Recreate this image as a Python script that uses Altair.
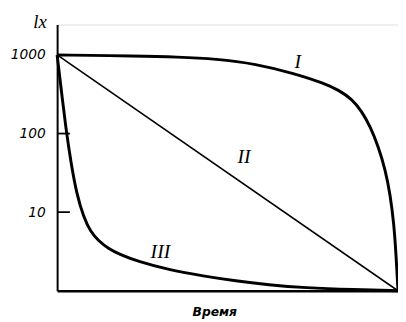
import altair as alt
import pandas as pd

# Curve I
t1 = [0, 23.6, 35.2, 46.7, 58.2, 69.7, 78.4, 82.7, 86.5, 89.3, 91.9, 94.2, 96.3, 97.7, 98.8, 99.4, 100]
v1 = [1000, 971, 944, 891, 772, 579, 434, 355, 274, 194, 122, 68.8, 34.5, 16.8, 7.08, 2.99, 1]
# Curve II
t2 = [0, 100]
v2 = [1000, 1]
# Curve III
t3 = [0, 1.44, 2.59, 4.03, 5.76, 7.78, 9.8, 12.1, 15.0, 18.4, 23.6, 33.1, 42.9, 52.4, 62.0, 72.6, 87.0, 100]
v3 = [1000, 298, 115, 43.4, 16.8, 8.66, 5.62, 4.34, 3.45, 2.9, 2.37, 1.83, 1.54, 1.33, 1.19, 1.09, 1.03, 1]

y_ticks = [10, 100, 1000]
curve_names = ["I", "II", "III"]
label_t = [70.6, 54.8, 30.3]
label_v = [818, 50, 3.07]

rows = []
for name, ts, vs in zip(curve_names, [t1, t2, t3], [v1, v2, v3]):
    for t, v in zip(ts, vs):
        rows.append({"curve": name, "t": t, "v": v})
df = pd.DataFrame(rows)
labels = pd.DataFrame({"curve": curve_names, "t": label_t, "v": label_v})
ticks = pd.DataFrame({"v": y_ticks})

xs = alt.Scale(domain=[0, 100], nice=False, zero=False)
ys = alt.Scale(type="log", domain=[1, 2441], nice=False)

x_enc = alt.X("t:Q", scale=xs, axis=alt.Axis(
    title="Время", labels=False, ticks=False, grid=False,
    domainColor="black", domainWidth=2.5,
    titleFont="DejaVu Sans", titleFontStyle="italic", titleFontWeight="bold",
    titleFontSize=12.5, titlePadding=15, titleColor="black", titleX=160))
y_enc = alt.Y("v:Q", scale=ys, axis=alt.Axis(
    title="lx", values=y_ticks, format="d", ticks=False, grid=False,
    domainColor="black", domainWidth=2,
    labelFont="DejaVu Sans", labelFontStyle="italic", labelFontSize=14,
    labelColor="black", labelPadding=12,
    titleFont="Liberation Serif", titleFontStyle="italic", titleFontWeight="normal",
    titleFontSize=19, titleAngle=0, titleAlign="center", titleBaseline="alphabetic",
    titleX=-18, titleY=3, titleColor="black"))

thick = alt.Chart(df).transform_filter(alt.datum.curve != "II").mark_line(
    color="black", strokeWidth=3, interpolate="basis"
).encode(x=x_enc, y=y_enc, detail="curve:N")

thin = alt.Chart(df).transform_filter(alt.datum.curve == "II").mark_line(
    color="black", strokeWidth=1.6
).encode(x="t:Q", y="v:Q")

tick_rules = alt.Chart(ticks).mark_rule(color="black", strokeWidth=1.8).encode(
    y="v:Q", x=alt.value(0), x2=alt.value(13))

text = alt.Chart(labels).mark_text(
    font="Liberation Serif", fontStyle="italic", fontSize=20, color="black",
    align="center", baseline="middle"
).encode(x="t:Q", y="v:Q", text="curve:N")

chart = alt.layer(thick, thin, tick_rules, text).properties(
    width=347, height=271,
    autosize=alt.AutoSizeParams(type="none"),
    padding={"left": 50, "top": 14, "right": 0, "bottom": 28},
).configure_view(stroke=None).configure(background="white")

chart.save("out.html", embed_options={"renderer": "svg", "actions": False})
